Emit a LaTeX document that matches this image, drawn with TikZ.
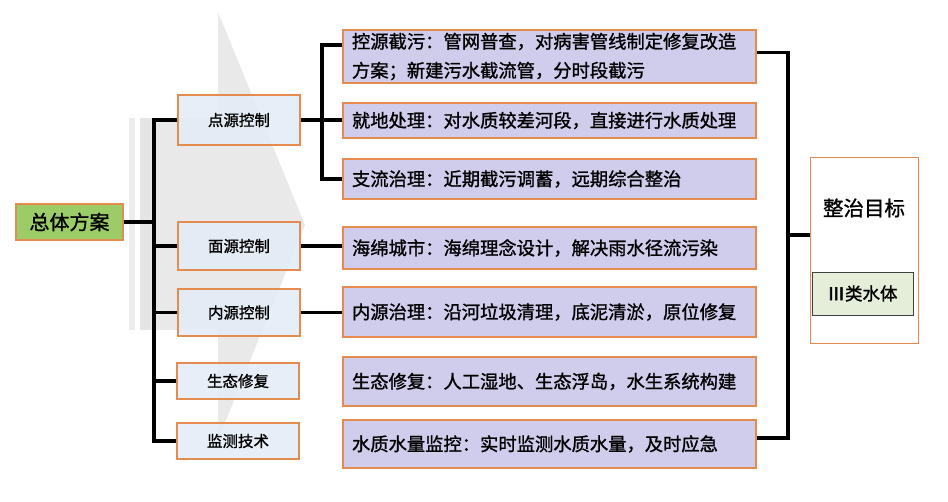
\documentclass[tikz,border=0pt]{standalone}
\usepackage{fontspec}
\newfontfamily\cjk{Noto Sans CJK SC}[FakeBold=1.2]
\usetikzlibrary{calc}
\definecolor{orangeb}{RGB}{228,140,80}
\definecolor{lblue}{RGB}{226,236,247}
\definecolor{lav}{RGB}{208,204,235}
\definecolor{lgreen}{RGB}{155,204,104}
\definecolor{pgreen}{RGB}{228,238,216}
\definecolor{bggray}{RGB}{228,228,228}
\tikzset{
  lbox/.style={draw=orangeb, line width=1.5pt, fill=lblue, fill opacity=0.85, text opacity=1,
    minimum width=122pt, inner sep=0pt, font=\cjk\fontsize{15.5}{18}\selectfont},
  rbox/.style={draw=orangeb, line width=1.5pt, fill=lav, minimum width=413pt, text width=395pt,
    inner xsep=9pt, inner ysep=0pt, align=left, font=\cjk\fontsize{18.3}{29}\selectfont},
  conn/.style={line width=3.5pt, black},
}
\begin{document}
\begin{tikzpicture}[x=1pt,y=-1pt]
\useasboundingbox (0,0) rectangle (948,501);
% background arrow
\fill[bggray!70] (129,118) rectangle (135,330);
\fill[bggray] (140,118) rectangle (150,330);
\fill[bggray!80] (150,118) rectangle (218,330);
\fill[bggray!80] (218,12) -- (305,225) -- (218,440) -- cycle;

% root
\node[draw=orangeb, line width=1.5pt, fill=lgreen, minimum width=107pt, minimum height=36pt,
  inner sep=0pt, font=\cjk\fontsize{20}{22}\selectfont] (zt) at (69.5,222) {总体方案};

% left nodes
\node[lbox, minimum height=50pt] (ds) at (239,120) {点源控制};
\node[lbox, minimum height=48pt] (ms) at (239,246) {面源控制};
\node[lbox, minimum height=47pt] (ns) at (239,312.5) {内源控制};
\node[lbox, minimum height=36pt] (st) at (238,381) {生态修复};
\node[lbox, minimum height=36pt] (jc) at (238,441) {监测技术};

% right boxes
\node[rbox, minimum height=53pt] (r1) at (549.5,56.5) {控源截污：管网普查，对病害管线制定修复改造\\方案；新建污水截流管，分时段截污};
\node[rbox, minimum height=35pt] (r2) at (549.5,120.5) {就地处理：对水质较差河段，直接进行水质处理};
\node[rbox, minimum height=40pt] (r3) at (549.5,179) {支流治理：近期截污调蓄，远期综合整治};
\node[rbox, minimum height=42pt] (r4) at (549.5,248) {海绵城市：海绵理念设计，解决雨水径流污染};
\node[rbox, minimum height=50pt] (r5) at (549.5,312) {内源治理：沿河垃圾清理，底泥清淤，原位修复};
\node[rbox, minimum height=49pt] (r6) at (549.5,381.5) {生态修复：人工湿地、生态浮岛，水生系统构建};
\node[rbox, minimum height=48pt] (r7) at (549.5,444) {水质水量监控：实时监测水质水量，及时应急};

% goal
\node[draw=orangeb, line width=1pt, fill=white, minimum width=108pt, minimum height=186pt, inner sep=0pt] (goal) at (864,250) {};
\node[font=\cjk\fontsize{20.5}{22}\selectfont, inner sep=0pt] (goalt) at (864,208) {整治目标};
\node[draw=black!75, line width=1pt, fill=pgreen, minimum width=101pt, minimum height=43pt, inner sep=0pt,
  font=\cjk\fontsize{17.5}{20}\selectfont] (cls) at (862.5,293.5) {{\addfontfeature{FakeBold=3}Ⅲ}类水体};

% connectors
\coordinate (tb) at (154,0);
\draw[conn] (zt.east) -- (zt.east -| tb);
\draw[conn] (ds.west) -- (ds.west -| tb) -- (jc.west -| tb) -- (jc.west);
\draw[conn] (ms.west) -- (ms.west -| tb);
\draw[conn] (ns.west) -- (ns.west -| tb);
\draw[conn] (st.west) -- (st.west -| tb);

\coordinate (pb) at (322,0);
\draw[conn] (ds.east) -- (ds.east -| r2.west);
\draw[conn] ($(r1.west)+(0,-11.5)$) -| (pb |- r3.west) -- (r3.west);
\draw[conn] (ms.east) -- (ms.east -| r4.west);
\draw[conn] (ns.east) -- (ns.east -| r5.west);

\draw[conn] ($(r1.east)+(0,-4)$) -- ++(31,0) |- ($(r7.east)+(0,-6)$);
\draw[conn] ($(goal.west)+(0,-15)$) -- ++(-23,0);
\end{tikzpicture}
\end{document}
